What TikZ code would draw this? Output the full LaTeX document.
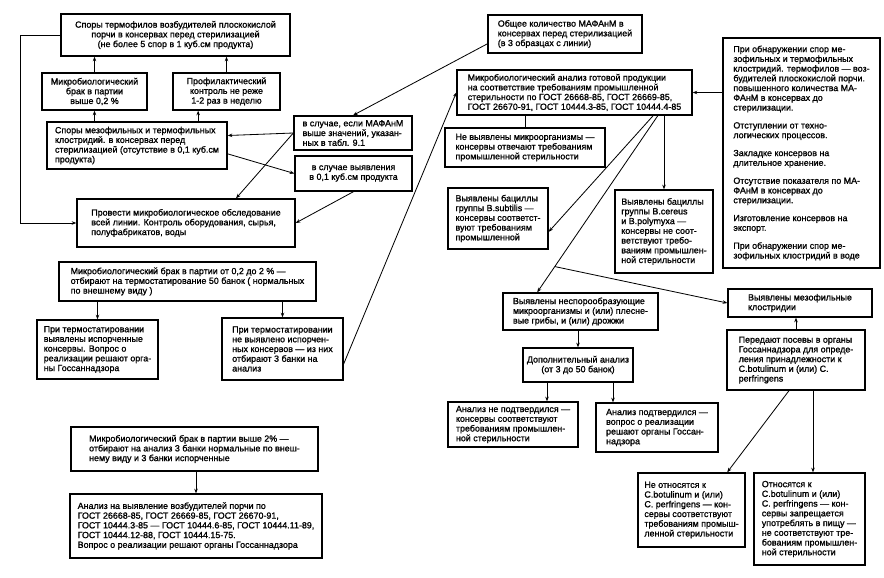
\documentclass[tikz,border=0pt]{standalone}
\usepackage{fontspec}
\setmainfont{Liberation Sans}[FakeBold=1.2]
\usepackage{tikz}
\usetikzlibrary{arrows.meta, calc}

\begin{document}
\begin{tikzpicture}[x=0.03cm, y=-0.03cm,
        box/.style={draw, line width=1.1pt, inner sep=2pt, align=left,
            font=\fontsize{7.6}{8.3}\selectfont},
        arr/.style={-{Stealth[length=4pt, width=3pt]}, line width=0.7pt},
        ln/.style={line width=0.7pt}]
    \useasboundingbox (0,0) rectangle (884,577);

    % Контроль перед стерилизацией
    \node[box, align=center, minimum width=6.87cm, minimum height=1.26cm] (termo) at (175.5,35)
        {Споры термофилов возбудителей плоскокислой\\порчи в консервах перед стерилизацией\\(не более 5 спор в 1 куб.см продукта)};
    \node[box, align=center, minimum width=3.15cm, minimum height=1.11cm] (brak) at (94.5,91.5)
        {Микробиологический\\брак в партии\\выше 0,2 \%};
    \node[box, align=center, minimum width=3.21cm, minimum height=1.11cm] (prof) at (226.5,91.5)
        {Профилактический\\контроль не реже\\1-2 раз в неделю};
    \node[box, minimum width=5.4cm, minimum height=1.41cm] (klost) at (137,145.5)
        {Споры мезофильных и термофильных\\клостридий. в консервах перед\\стерилизацией (отсутствие в 0,1 куб.см\\продукта)};
    \node[box, minimum width=6.54cm, minimum height=1.44cm] (linia) at (186,223)
        {Провести микробиологическое обследование\\всей линии. Контроль оборудования, сырья,\\полуфабрикатов, воды};
    \node[box, minimum width=3.54cm, minimum height=1.02cm] (mafanm) at (353,133)
        {в случае, если МАФАнМ\\выше значений, указан-\\ных в табл. 9.1};
    \node[box, align=center, minimum width=3.51cm, minimum height=1.05cm] (vyjav) at (353.5,173.5)
        {в случае выявления\\в 0,1 куб.см продукта};
    \node[box, minimum width=4.62cm, minimum height=1.14cm] (obshee) at (565,34)
        {Общее количество МАФАнМ в\\консервах перед стерилизацией\\(в 3 образцах с линии)};

    \draw[arr] (brak.north) -- (brak.north |- termo.south);
    \draw[arr] (prof.north) -- (prof.north |- termo.south);
    \coordinate (p1) at ([xshift=-0.85cm]prof.south);
    \draw[arr] (brak.south |- klost.north) -- (brak.south);
    \draw[arr] (p1 |- klost.north) -- (p1);
    \draw[arr] (termo.west) -- ++(-40,0) |- (linia.west);
    \draw[arr] ($(obshee.west)!0.5!(obshee.south west)$) -- (mafanm.north);
    \draw[arr] (mafanm.west) -- ([yshift=0.3cm]klost.east);
    \draw[arr] (mafanm.west) -- ([xshift=1.5cm]linia.north);
    \draw[arr] ([yshift=-0.25cm]klost.east) -- (vyjav.west);
    \draw[arr] (vyjav.south) -- (linia.east);

    % Термостатирование
    \node[box, minimum width=7.71cm, minimum height=1.17cm] (brakA) at (187.5,281.5)
        {Микробиологический брак в партии от 0,2 до 2 \% —\\отбирают на термостатирование 50 банок ( нормальных\\по внешнему виду )};
    \node[box, minimum width=3.63cm, minimum height=1.77cm] (isporch) at (97.5,349.5)
        {При термостатировании\\выявлены испорченные\\консервы. Вопрос о\\реализации решают орга-\\ны Госсаннадзора};
    \node[box, minimum width=3.63cm, minimum height=1.86cm] (neisp) at (282.5,349)
        {При термостатировании\\не выявлено испорчен-\\ных консервов — из них\\отбирают 3 банки на\\анализ};
    \draw[arr] (isporch.north |- brakA.south) -- (isporch.north);
    \draw[arr] (neisp.north |- brakA.south) -- (neisp.north);

    \node[box, minimum width=7.41cm, minimum height=1.32cm] (brakB) at (194.5,449)
        {Микробиологический брак в партии выше 2\% —\\отбирают на анализ 3 банки нормальные по внеш-\\нему виду и 3 банки испорченные};
    \node[box, minimum width=7.56cm, minimum height=1.92cm] (gost) at (196,526)
        {Анализ на выявление возбудителей порчи по\\ГОСТ 26668-85, ГОСТ 26669-85, ГОСТ 26670-91,\\ГОСТ 10444.3-85 — ГОСТ 10444.6-85, ГОСТ 10444.11-89,\\ГОСТ 10444.12-88, ГОСТ 10444.15-75.\\Вопрос о реализации решают органы Госсаннадзора};
    \draw[arr] (gost.north |- brakB.south) -- (gost.north);

    % Анализ готовой продукции
    \node[box, minimum width=7.05cm, minimum height=1.35cm] (analiz) at (574.5,92.5)
        {Микробиологический анализ готовой продукции\\на соответствие требованиям промышленной\\стерильности по ГОСТ 26668-85, ГОСТ 26669-85,\\ГОСТ 26670-91, ГОСТ 10444.3-85, ГОСТ 10444.4-85};
    \node[box, minimum width=4.71cm, minimum height=6.9cm] (uslov) at (801.5,153)
        {При обнаружении спор ме-\\зофильных и термофильных\\клостридий. термофилов — воз-\\будителей плоскокислой порчи.\\повышенного количества МА-\\ФАнМ в консервах до\\стерилизации.\\[7pt]Отступлении от техно-\\логических процессов.\\[7pt]Закладке консервов на\\длительное хранение.\\[7pt]Отсутствие показателя по МА-\\ФАнМ в консервах до\\стерилизации.\\[7pt]Изготовление консервов на\\экспорт.\\[7pt]При обнаружении спор ме-\\зофильных клостридий в воде};
    \node[box, minimum width=4.8cm, minimum height=1.17cm] (nevyj) at (525,147.5)
        {Не выявлены микроорганизмы —\\консервы отвечают требованиям\\промышленной стерильности};
    \node[box, minimum width=3.0cm, minimum height=1.83cm] (subtil) at (498,218.5)
        {Выявлены бациллы\\группы B.subtilis —\\консервы соответст-\\вуют требованиям\\промышленной};
    \node[box, minimum width=2.94cm, minimum height=2.49cm] (cereus) at (664,231.5)
        {Выявлены бациллы\\группы B.cereus\\и B.polymyxa —\\консервы не соот-\\ветствуют требо-\\ваниям промышлен-\\ной стерильности};

    \draw[arr] ([yshift=-0.45cm]neisp.east) -- (analiz.west);
    \draw[arr] (uslov.west |- analiz.east) -- (analiz.east);
    \draw[ln] (nevyj.north |- analiz.south) -- (nevyj.north);
    \draw[arr] ([xshift=2.36cm]analiz.south) -- ([yshift=-0.4cm]subtil.east);
    \draw[arr] (cereus.north |- analiz.south) -- (cereus.north);

    % Неспорообразующие и мезофильные
    \node[box, minimum width=4.65cm, minimum height=1.11cm] (nespor) at (580.5,311.5)
        {Выявлены неспорообразующие\\микроорганизмы и (или) плесне-\\вые грибы, и (или) дрожжи};
    \node[box, align=center, minimum width=3.3cm, minimum height=1.02cm] (dopol) at (578,365)
        {Дополнительный анализ\\(от 3 до 50 банок)};
    \node[box, minimum width=3.9cm, minimum height=1.35cm] (nepodt) at (513,424.5)
        {Анализ не подтвердился —\\консервы соответствуют\\требованиям промышлен-\\ной стерильности};
    \node[box, minimum width=3.66cm, minimum height=1.47cm] (podt) at (657,427.5)
        {Анализ подтвердился —\\вопрос о реализации\\решают органы Госсан-\\надзора};
    \node[box, minimum width=4.32cm, minimum height=0.84cm] (mezo) at (800,303)
        {Выявлены мезофильные\\клостридии};
    \node[box, minimum width=4.14cm, minimum height=1.8cm] (posev) at (796,360)
        {Передают посевы в органы\\Госсаннадзора для опреде-\\ления принадлежности к\\C.botulinum и (или) C.\\perfringens};
    \node[box, minimum width=3.21cm, minimum height=2.22cm] (neotn) at (691.5,510)
        {Не относятся к\\C.botulinum и (или)\\C. perfringens — кон-\\сервы соответствуют\\требованиям промыш-\\ленной стерильности};
    \node[box, minimum width=3.33cm, minimum height=2.76cm] (otn) at (809.5,519)
        {Относятся к\\C.botulinum и (или)\\C. perfringens — кон-\\сервы запрещается\\употреблять в пищу —\\не соответствуют тре-\\бованиям промышлен-\\ной стерильности};

    \coordinate (a1) at ([xshift=2.5cm]analiz.south);
    \coordinate (a2) at ([xshift=-1.3cm]nespor.north);
    \draw[arr] (a1) -- (a2);
    \draw[arr] ($(a1)!0.854!(a2)$) -- (mezo.west);
    \draw[arr] (dopol.north |- nespor.south) -- (dopol.north);
    \coordinate (d1) at ([xshift=-0.93cm]dopol.south);
    \coordinate (d2) at ([xshift=1.05cm]dopol.south);
    \draw[arr] (d1) -- (d1 |- nepodt.north);
    \draw[arr] (d2) -- (d2 |- podt.north);
    \draw[arr] (posev.north) -- (posev.north |- mezo.south);
    \draw[arr] ([xshift=-0.21cm]posev.south) -- ([xshift=1.07cm]neotn.north);
    \coordinate (s1) at ([xshift=0.51cm]posev.south);
    \draw[arr] (s1) -- (s1 |- otn.north);
\end{tikzpicture}
\end{document}
